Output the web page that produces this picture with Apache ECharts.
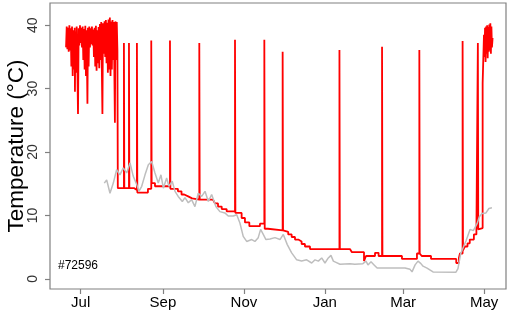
<!DOCTYPE html>
<html>
<head>
<meta charset="utf-8">
<script src="https://cdn.jsdelivr.net/npm/echarts@6/dist/echarts.min.js"></script>
<style>
  html, body { margin: 0; padding: 0; background: #fff; }
  #chart { width: 512px; height: 313px; }
</style>
</head>
<body>
<div id="chart"></div>
<script>
// x values are days since 1 Jul, y values are °C
// month ticks
var tickDays = [0, 62, 123, 184, 243, 304];
var tickLabels = ['Jul', 'Sep', 'Nov', 'Jan', 'Mar', 'May'];
var tempTicks = [0, 10, 20, 30, 40];

// body temperature, summer activity
var tbSummer = [
  [-11, 36.5], [-10.5, 39.8], [-10, 36.2], [-9.5, 39.6], [-9, 35.8], [-8.5, 40.0],
  [-8, 36.0], [-7.5, 39.5], [-7, 33.5], [-6.5, 39.8], [-6, 32.0], [-5.5, 39.2],
  [-5, 33.0], [-4.5, 39.6], [-4.3, 29.5], [-4, 39.0], [-3.5, 32.5], [-3, 39.8],
  [-2.5, 34.0], [-2, 26.0], [-1.5, 39.5], [-1, 36.8], [-0.5, 40.0], [0, 37.2],
  [0.5, 39.6], [1, 36.5], [1.5, 39.8], [2, 34.5], [2.5, 39.4], [3, 33.0],
  [3.5, 39.9], [4, 32.0], [4.5, 39.2], [5.1, 27.6], [5.5, 39.6], [6, 33.5],
  [6.5, 39.8], [7, 36.5], [7.5, 39.5], [8, 37.0], [8.5, 39.8], [9, 36.8],
  [9.5, 39.3], [10, 35.0], [10.5, 39.6], [11, 33.5], [11.5, 39.9], [12, 32.8],
  [12.5, 39.2], [13, 34.0], [13.5, 39.7], [14, 33.2], [14.5, 40.2], [15, 34.5],
  [15.5, 40.5], [16.4, 26.0], [16.8, 40.3], [17.5, 35.5], [18, 40.6], [18.5, 35.0],
  [19, 40.8], [19.5, 34.0], [20, 40.4], [20.5, 32.5], [21, 40.9], [21.5, 33.0],
  [22, 41.2], [22.5, 32.0], [23, 40.6], [23.5, 33.0], [24, 40.8], [24.5, 34.5],
  [25, 40.5], [25.8, 24.6], [26.2, 40.6], [26.7, 34.5], [27.2, 40.5], [27.7, 36.0]
];

// body temperature, hibernation with arousals
var tbWinter = [
  [28.0, 14.3], [32.6, 37.2], [32.9, 14.3], [36.4, 37.2], [36.7, 14.3], [40.4, 14.0],
  [42.4, 37.2], [42.7, 13.6], [50.7, 14.2], [53.2, 37.6], [53.5, 15.1], [56.0, 14.6],
  [67.3, 37.6], [67.6, 14.2], [73.3, 13.8], [76.0, 13.3], [78.0, 13.0], [81.0, 12.7],
  [84.0, 12.5], [89.4, 37.2], [89.7, 12.5], [99.7, 12.3], [101.2, 11.9], [103.5, 11.4],
  [106.3, 11.0], [110.0, 10.65], [116.3, 37.7], [116.6, 10.4], [121.3, 9.6], [123.8, 8.9],
  [127.1, 8.3], [135.1, 8.7], [138.4, 37.7], [138.7, 7.9], [141.1, 7.65], [152.2, 35.8],
  [152.5, 7.65], [154.0, 7.4], [156.4, 7.0], [159.0, 6.6], [161.5, 6.2], [164.0, 5.9],
  [166.5, 5.5], [169.0, 5.1], [172.8, 4.7], [195.0, 36.1], [195.3, 4.7], [202.9, 4.45],
  [204.4, 4.2], [213.5, 2.8], [215.0, 3.6], [221.8, 4.1], [224.5, 3.6], [227.1, 36.6],
  [227.4, 3.6], [242.1, 3.15], [253.4, 4.0], [255.2, 36.1], [255.5, 4.0], [257.0, 3.6],
  [264.0, 3.15], [283.0, 2.5], [285.0, 3.3], [285.8, 4.0], [287.8, 37.5], [288.1, 4.5],
  [289.5, 5.1], [291.5, 5.6], [293.2, 6.2], [296.3, 7.0], [298.2, 7.5], [299.3, 37.2],
  [299.6, 7.8], [300.8, 8.0], [302.9, 30.9]
];

// body temperature, spring activity
var tbSpring = [
  [303.9, 38.5], [304.3, 35.0], [304.7, 39.6], [305.1, 34.2], [305.5, 39.8], [305.9, 35.5],
  [306.3, 40.0], [306.7, 34.8], [307.1, 39.7], [307.5, 35.8], [307.9, 40.1], [308.3, 36.0],
  [308.7, 40.3], [309.1, 35.5], [309.5, 39.8], [309.9, 36.5], [310.4, 38.0]
];

// ambient temperature
var ambient = [
  [17.8, 15.1], [19.6, 15.6], [22.1, 13.5], [24.6, 15.1], [27.1, 17.2], [29.6, 16.4],
  [32.1, 17.5], [34.7, 16.7], [37.2, 18.3], [39.6, 16.2], [42.2, 14.9], [43.9, 13.8],
  [46.0, 14.6], [48.5, 16.4], [51.0, 18.0], [53.5, 18.5], [56.0, 16.7], [58.5, 15.1],
  [60.5, 16.4], [62.3, 14.3], [64.8, 15.9], [66.5, 14.6], [69.0, 15.4], [71.1, 13.8],
  [73.5, 13.0], [76.6, 12.2], [78.6, 12.8], [81.1, 12.0], [83.6, 12.5], [86.1, 11.4],
  [88.6, 13.5], [91.2, 13.0], [93.7, 13.8], [96.2, 12.2], [98.7, 13.3], [101.9, 11.4],
  [104.9, 10.6], [108.7, 10.4], [111.2, 9.9], [115.0, 9.9], [117.6, 10.1], [120.0, 8.8],
  [122.5, 6.7], [125.1, 5.9], [128.9, 6.2], [131.3, 5.9], [133.8, 6.5], [135.6, 7.8],
  [137.6, 7.0], [139.6, 6.2], [142.7, 6.3], [146.4, 6.5], [150.2, 6.2], [152.7, 7.0],
  [155.7, 5.4], [159.0, 4.1], [162.8, 3.0], [166.5, 2.8], [170.3, 3.0], [174.1, 2.5],
  [176.6, 3.0], [179.1, 2.8], [181.6, 3.3], [184.1, 2.5], [186.6, 3.3], [188.6, 3.7],
  [190.4, 2.8], [192.4, 2.6], [195.4, 2.3], [202.9, 2.4], [206.6, 2.3], [212.7, 2.4],
  [215.0, 2.8], [216.5, 2.2], [218.8, 2.7], [221.1, 2.2], [223.4, 1.7], [233.1, 1.7],
  [244.4, 1.7], [248.2, 1.5], [249.7, 1.1], [252.0, 2.2], [254.2, 2.8], [256.4, 2.4],
  [258.0, 2.0], [261.0, 1.7], [265.5, 1.1], [282.8, 1.05], [284.3, 1.6], [286.4, 4.0],
  [290.4, 6.0], [293.4, 7.8], [295.9, 7.6], [298.7, 8.7], [300.4, 9.8], [302.4, 10.3],
  [305.4, 10.4], [307.6, 11.1], [309.9, 11.2]
];

var yTitle = 'Temperature (°C)';
var animalId = '#72596';

var bodyTemp = tbSummer.concat(tbWinter, tbSpring);

var chart = echarts.init(document.getElementById('chart'), null, { renderer: 'canvas' });

var option = {
  animation: false,
  grid: {
    left: 50, top: 3, right: 6, bottom: 24,
    outerBoundsMode: 'none',
    containLabel: false,
    show: true,
    borderColor: '#808080',
    borderWidth: 1.2,
    backgroundColor: 'transparent'
  },
  xAxis: {
    type: 'value',
    min: -23.1,
    max: 320.5,
    splitLine: { show: false },
    axisLine: { show: false, onZero: false },
    axisTick: {
      show: true,
      customValues: tickDays,
      length: 5,
      lineStyle: { color: '#808080', width: 1.2 }
    },
    axisLabel: {
      customValues: tickDays,
      formatter: function (v) {
        var i = tickDays.indexOf(v);
        return i >= 0 ? tickLabels[i] : '';
      },
      color: '#000',
      fontSize: 15,
      fontFamily: 'Liberation Sans, Arial, sans-serif',
      margin: 6
    }
  },
  yAxis: {
    type: 'value',
    min: -1.6,
    max: 43.5,
    splitLine: { show: false },
    axisLine: { show: false, onZero: false },
    axisTick: {
      show: true,
      customValues: tempTicks,
      length: 5,
      lineStyle: { color: '#808080', width: 1.2 }
    },
    axisLabel: {
      customValues: tempTicks,
      rotate: 90,
      color: '#333',
      fontSize: 14,
      fontFamily: 'Liberation Sans, Arial, sans-serif',
      margin: 10
    }
  },
  graphic: [
    {
      type: 'text',
      x: 17,
      y: 146,
      rotation: Math.PI / 2,
      style: {
        text: yTitle,
        fontSize: 22.5,
        fill: '#000',
        align: 'center',
        verticalAlign: 'middle',
        fontFamily: 'Liberation Sans, Arial, sans-serif'
      }
    },
    {
      type: 'text',
      left: 58,
      top: 260,
      style: {
        text: animalId,
        fontSize: 12,
        fill: '#000',
        fontFamily: 'Liberation Sans, Arial, sans-serif'
      }
    }
  ],
  series: [
    {
      type: 'line',
      data: bodyTemp,
      step: 'end',
      showSymbol: false,
      lineStyle: { color: '#ff0000', width: 1.8 },
      z: 2
    },
    {
      type: 'line',
      data: ambient,
      showSymbol: false,
      lineStyle: { color: '#bebebe', width: 1.5 },
      z: 3
    }
  ]
};

chart.setOption(option);
</script>
</body>
</html>
